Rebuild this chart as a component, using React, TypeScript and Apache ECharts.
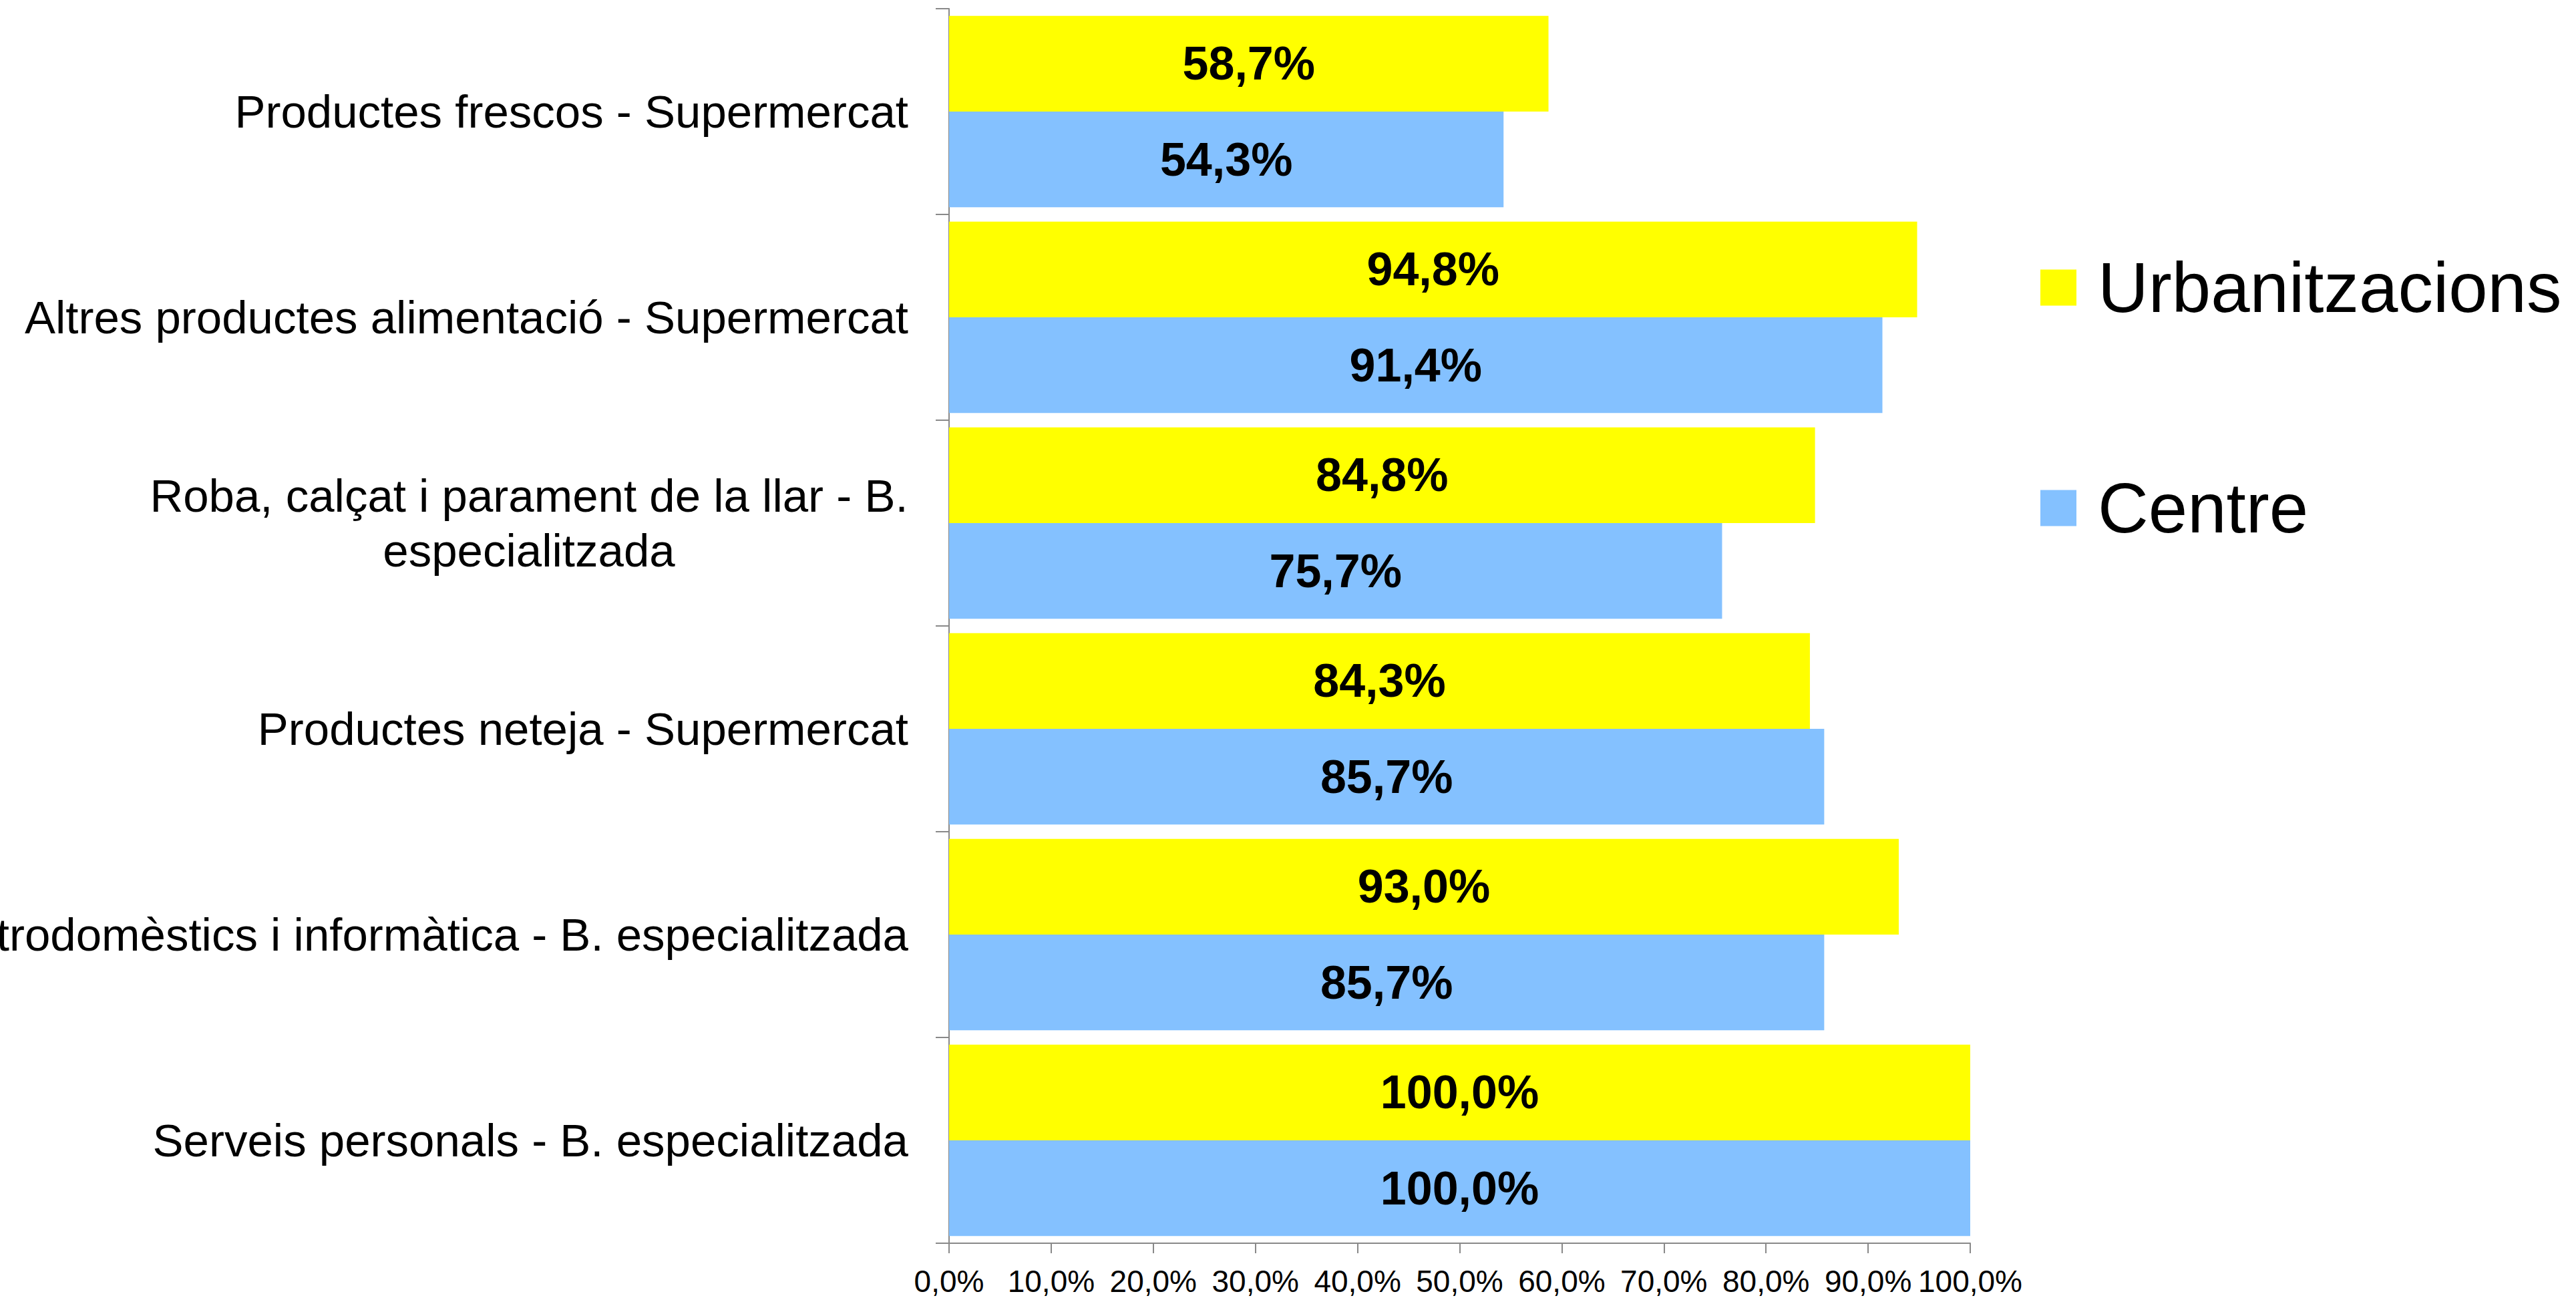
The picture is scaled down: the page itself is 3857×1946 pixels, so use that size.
import React, { useEffect, useRef } from 'react';
import * as echarts from 'echarts';

const categories = [
  'Productes frescos - Supermercat',
  'Altres productes alimentació - Supermercat',
  'Roba, calçat i parament de la llar - B. especialitzada',
  'Productes neteja - Supermercat',
  'Electrodomèstics i informàtica - B. especialitzada',
  'Serveis personals - B. especialitzada',
];

const seriesNames = ['Urbanitzacions', 'Centre'];
const urbanitzacions = [58.7, 94.8, 84.8, 84.3, 93.0, 100.0];
const centre = [54.3, 91.4, 75.7, 85.7, 85.7, 100.0];

const wrappedLabels: Record<string, string[]> = {
  'Roba, calçat i parament de la llar - B. especialitzada': [
    'Roba, calçat i parament de la llar - B.',
    'especialitzada',
  ],
};

const FONT = '"Liberation Sans", Arial, sans-serif';
const fmtPct = (v: number) => v.toFixed(1).replace('.', ',') + '%';

export default function App() {
  const ref = useRef<HTMLDivElement>(null);
  useEffect(() => {
    if (!ref.current) return;
    const chart = echarts.init(ref.current, undefined, { renderer: 'svg' });
    const labelStyle = {
      show: true,
      position: 'inside' as const,
      color: '#000',
      fontWeight: 'bold' as const,
      fontSize: 70,
      fontFamily: FONT,
      formatter: (p: any) => fmtPct(p.value),
    };
    chart.setOption({
      animation: false,
      backgroundColor: '#ffffff',
      textStyle: { fontFamily: FONT },
      grid: {
        left: 1421,
        top: 13,
        width: 1529,
        height: 1848,
        containLabel: false,
        outerBoundsMode: 'none',
      },
      legend: {
        orient: 'vertical',
        left: 3055,
        top: 378,
        padding: 0,
        itemGap: 225,
        itemWidth: 54,
        itemHeight: 54,
        icon: 'rect',
        data: seriesNames,
        textStyle: {
          fontSize: 105,
          color: '#000',
          fontFamily: FONT,
          padding: [0, 0, 0, 27],
        },
      },
      xAxis: {
        type: 'value',
        min: 0,
        max: 100,
        interval: 10,
        splitLine: { show: false },
        axisLine: { show: true, lineStyle: { color: '#898989', width: 2 } },
        axisTick: { show: true, length: 15, lineStyle: { color: '#898989', width: 2 } },
        axisLabel: {
          margin: 34,
          fontSize: 46,
          color: '#000',
          fontFamily: FONT,
          showMinLabel: true,
          showMaxLabel: true,
          hideOverlap: false,
          formatter: (v: number) => fmtPct(v),
        },
      },
      yAxis: {
        type: 'category',
        inverse: true,
        data: categories,
        axisLine: { show: true, lineStyle: { color: '#898989', width: 2 } },
        axisTick: { show: true, length: 20, lineStyle: { color: '#898989', width: 2 } },
        axisLabel: {
          margin: 61,
          fontSize: 69,
          color: '#000',
          fontFamily: FONT,
          lineHeight: 82,
          formatter: (v: string) => {
            const lines = wrappedLabels[v];
            if (lines) return lines.map((l) => `{c|${l}}`).join('\n');
            return v;
          },
          rich: {
            c: {
              width: 1136,
              align: 'center',
              fontSize: 69,
              lineHeight: 82,
              color: '#000',
              fontFamily: FONT,
            },
          },
        },
      },
      series: [
        {
          name: seriesNames[0],
          type: 'bar',
          data: urbanitzacions,
          barGap: '0%',
          barCategoryGap: '7%',
          itemStyle: { color: '#FFFF00' },
          label: labelStyle,
        },
        {
          name: seriesNames[1],
          type: 'bar',
          data: centre,
          barGap: '0%',
          barCategoryGap: '7%',
          itemStyle: { color: '#84C1FF' },
          label: labelStyle,
        },
      ],
    });
    return () => chart.dispose();
  }, []);
  return (
    <div
      ref={ref}
      style={{ position: 'fixed', left: 0, top: 0, width: 3857, height: 1946 }}
    />
  );
}
